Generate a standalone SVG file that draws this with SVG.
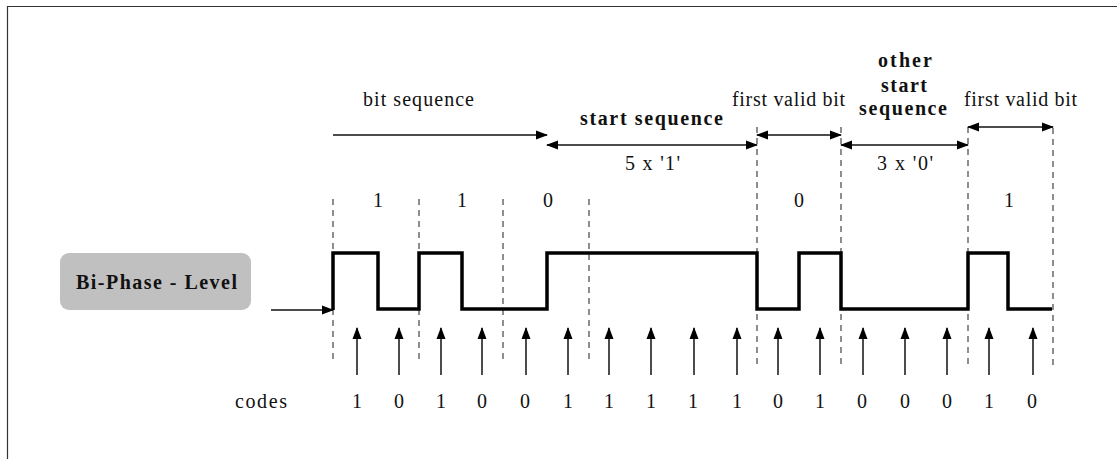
<svg xmlns="http://www.w3.org/2000/svg" width="1118" height="459" viewBox="0 0 1118 459" font-family="'Liberation Serif','Times New Roman',Times,'DejaVu Serif',serif">
<style>
text{font-family:"Liberation Serif","Times New Roman",Times,"DejaVu Serif",serif;font-size:20px;fill:#111}
.b{font-weight:bold}
.dash{stroke:#444;stroke-width:1.2;stroke-dasharray:6,5;fill:none}
.arr{stroke:#111;stroke-width:1.5;fill:none}
.sig{stroke:#000;stroke-width:3.5;fill:none;stroke-linejoin:miter}
</style>
<defs>
<marker id="ah" markerUnits="userSpaceOnUse" markerWidth="12" markerHeight="10" refX="11" refY="5" orient="auto-start-reverse" viewBox="0 0 12 10">
<path d="M0,0.5 L12,5 L0,9.5 z" fill="#000"/>
</marker>
</defs>
<path d="M7.5,459 L7.5,6.5 L1117,6.5" stroke="#333" stroke-width="1.2" fill="none"/>
<g id="node-biphase">
<rect x="60" y="253" width="191" height="57" rx="9" fill="#c0c0c0"/>
<text class="b" x="76" y="289" textLength="161" lengthAdjust="spacing">Bi-Phase - Level</text>
</g>
<g id="labels">
<text x="363" y="106" textLength="111" lengthAdjust="spacing">bit sequence</text>
<text class="b" x="580" y="125" textLength="143" lengthAdjust="spacing">start sequence</text>
<text x="625" y="170" textLength="55" lengthAdjust="spacing">5 x '1'</text>
<text x="732" y="106" textLength="113" lengthAdjust="spacing">first valid bit</text>
<text class="b" x="878" y="67" textLength="54" lengthAdjust="spacing">other</text>
<text class="b" x="881" y="92" textLength="46" lengthAdjust="spacing">start</text>
<text class="b" x="859" y="115" textLength="88" lengthAdjust="spacing">sequence</text>
<text x="877" y="170" textLength="56" lengthAdjust="spacing">3 x '0'</text>
<text x="964" y="106" textLength="113" lengthAdjust="spacing">first valid bit</text>
<text x="378" y="207" text-anchor="middle">1</text>
<text x="462" y="207" text-anchor="middle">1</text>
<text x="548" y="207" text-anchor="middle">0</text>
<text x="799" y="207" text-anchor="middle">0</text>
<text x="1009" y="207" text-anchor="middle">1</text>
<text x="235" y="408" textLength="52" lengthAdjust="spacing">codes</text>
</g>
<g id="codes" text-anchor="middle">
<text x="357" y="408">1</text><text x="399" y="408">0</text><text x="441" y="408">1</text><text x="482" y="408">0</text>
<text x="525" y="408">0</text><text x="568" y="408">1</text><text x="609" y="408">1</text><text x="651" y="408">1</text>
<text x="693" y="408">1</text><text x="737" y="408">1</text><text x="778" y="408">0</text><text x="820" y="408">1</text>
<text x="862" y="408">0</text><text x="905" y="408">0</text><text x="947" y="408">0</text><text x="989" y="408">1</text>
<text x="1032" y="408">0</text>
</g>
<g id="dashed">
<path class="dash" d="M333,199 V360 M419,199 V360 M503,199 V360 M589,199 V360 M757,127 V365 M841,127 V365 M968,127 V365 M1053,128 V365"/>
</g>
<g id="signal">
<path class="sig" d="M333,310 L333,253 L378,253 L378,309 L419,309 L419,253 L462,253 L462,309 L547,309 L547,253 L757,253 L757,309 L799,309 L799,253 L841,253 L841,309 L968,309 L968,253 L1008,253 L1008,309 L1052,309"/>
</g>
<g id="connectors">
<line class="arr" x1="271" y1="310" x2="333" y2="310" marker-end="url(#ah)"/>
<line class="arr" x1="333" y1="135" x2="547" y2="135" marker-end="url(#ah)"/>
<line class="arr" x1="547" y1="145" x2="757" y2="145" marker-start="url(#ah)" marker-end="url(#ah)"/>
<line class="arr" x1="757" y1="135" x2="841" y2="135" marker-start="url(#ah)" marker-end="url(#ah)"/>
<line class="arr" x1="841" y1="145" x2="968" y2="145" marker-start="url(#ah)" marker-end="url(#ah)"/>
<line class="arr" x1="968" y1="127" x2="1053" y2="127" marker-start="url(#ah)" marker-end="url(#ah)"/>
<g marker-end="url(#ah)" class="arr">
<line x1="357" y1="375" x2="357" y2="328"/><line x1="399" y1="375" x2="399" y2="328"/>
<line x1="441" y1="375" x2="441" y2="328"/><line x1="482" y1="375" x2="482" y2="328"/>
<line x1="526" y1="375" x2="526" y2="328"/><line x1="568" y1="375" x2="568" y2="328"/>
<line x1="609" y1="375" x2="609" y2="328"/><line x1="651" y1="375" x2="651" y2="328"/>
<line x1="694" y1="375" x2="694" y2="328"/><line x1="737" y1="375" x2="737" y2="328"/>
<line x1="778" y1="375" x2="778" y2="328"/><line x1="820" y1="375" x2="820" y2="328"/>
<line x1="863" y1="375" x2="863" y2="328"/><line x1="905" y1="375" x2="905" y2="328"/>
<line x1="947" y1="375" x2="947" y2="328"/><line x1="989" y1="375" x2="989" y2="328"/>
<line x1="1033" y1="375" x2="1033" y2="328"/>
</g>
</g>
</svg>
